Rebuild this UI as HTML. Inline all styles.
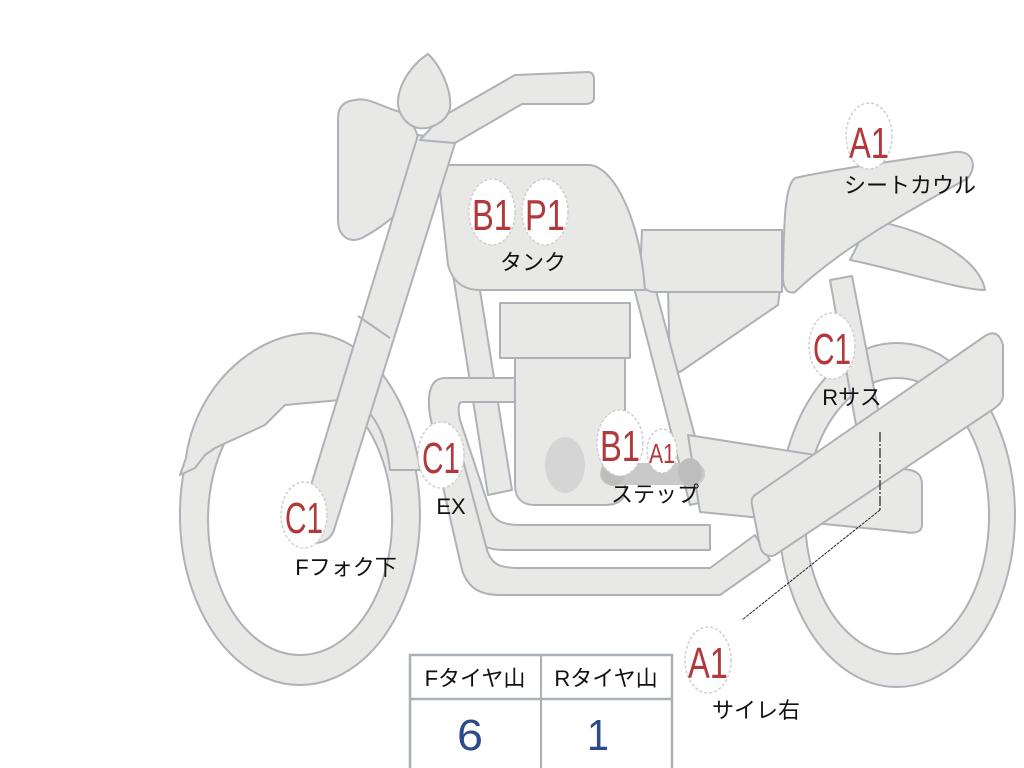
<!DOCTYPE html>
<html><head><meta charset="utf-8"><style>
html,body{margin:0;padding:0;background:#fff;}
svg{display:block}
.p{fill:#e8e8e6;stroke:#aeb2b6;stroke-width:2;stroke-linejoin:round}
.lbl{fill:#b2393b;font-family:"Liberation Sans",sans-serif;font-size:44px}
.jp{fill:#111;font-family:"Liberation Sans","Noto Sans CJK JP",sans-serif;font-size:22px}
.c{fill:#fff;stroke:#cfcfcf;stroke-width:1.5;stroke-dasharray:3 2}
</style></head><body>
<svg width="1024" height="768" viewBox="0 0 1024 768" xmlns="http://www.w3.org/2000/svg">
<path class="p" fill-rule="evenodd" d="M897 343 A118 172 0 1 1 896.9 343 Z M897 378 A92 138 0 1 0 897.1 378 Z"/>
<path class="p" fill-rule="evenodd" d="M300 345 A120 170 0 1 1 299.9 345 Z M300 385 A92 135 0 1 0 300.1 385 Z"/>
<path class="p" d="M180 475 L186 458 C195 390 250 335 310 333 C370 335 410 400 420 470 L390 470 C385 420 360 395 340 400 L285 405 L265 425 L215 448 L205 455 L195 468 Z"/>
<path class="p" d="M870 220 C930 230 980 260 985 290 C960 290 900 270 850 260 Z"/>
<path class="p" d="M668 290 L780 290 L778 305 L680 372 L670 370 Z"/>
<path class="p" d="M830 280 L852 276 L882 430 L858 436 Z"/>
<path class="p" d="M438 180 L462 178 L512 490 L488 495 Z"/>
<path class="p" d="M632 280 L652 276 L712 500 L690 505 Z"/>
<path class="p" d="M445 378 L520 378 L520 402 L462 402 C458 402 458 410 460 420 L490 510 C495 522 505 525 520 525 L710 525 L710 550 L505 550 C488 550 475 545 468 530 L432 425 C425 395 430 378 445 378 Z"/>
<path class="p" d="M430 430 L455 430 L487 550 C492 565 500 568 520 568 L710 568 L755 535 L770 560 L720 595 L500 595 C480 595 468 588 462 570 Z"/>
<path class="p" d="M515 355 L625 355 L625 490 C625 500 618 505 605 505 L535 505 C522 505 515 498 515 485 Z"/>
<rect class="p" x="500" y="303" width="130" height="55"/>
<ellipse cx="565" cy="465" rx="20" ry="28" fill="#d5d5d5"/>
<path class="p" d="M688 435 L910 470 C920 472 922 478 922 485 L922 525 C922 532 915 534 905 532 L700 512 Z"/>
<rect x="600" y="463" width="105" height="22" rx="11" fill="#c9c9c9"/>
<ellipse cx="613" cy="472" rx="12" ry="14" fill="#bdbdbd"/>
<ellipse cx="690" cy="472" rx="12" ry="14" fill="#bdbdbd"/>
<path class="p" d="M755 495 L985 336 C995 330 1000 335 1003 345 L1003 395 C1003 402 998 406 992 410 L775 555 C768 558 762 554 760 546 L752 505 C751 500 752 497 755 495 Z"/>
<path class="p" d="M642 230 L782 230 L782 292 L655 292 C645 292 640 285 640 275 Z"/>
<path class="p" d="M795 178 C830 170 900 160 955 152 C972 150 978 165 968 178 C930 200 850 240 795 292 C785 295 782 285 783 270 C784 220 785 185 795 178 Z"/>
<path class="p" d="M445 165 L590 165 C615 168 640 220 645 290 L480 290 C462 290 452 280 448 265 L440 190 Z"/>
<path class="p" d="M355 100 C368 97 380 106 400 112 C418 122 424 150 420 175 C414 200 395 220 362 238 C348 244 338 235 338 220 L338 118 C338 106 345 101 355 100 Z"/>
<path class="p" d="M418 135 L456 140 L334 530 C330 541 318 546 307 541 C299 536 299 526 301 518 Z"/>
<path fill="none" stroke="#aeb2b6" stroke-width="2" d="M358 316 L390 338"/>
<path class="p" d="M420 140 L440 118 L515 75 L588 72 C593 72 594 76 594 80 L594 98 C594 102 590 104 585 104 L522 104 L455 143 Z"/>
<path class="p" d="M428 54 C440 65 452 90 450 108 C447 122 430 130 418 128 C405 125 397 112 398 100 C400 80 415 62 428 54 Z"/>
<path d="M880 432 L880 510" fill="none" stroke="#222" stroke-width="1.2" stroke-dasharray="10 2 2 2"/>
<path d="M880 510 L742 620" fill="none" stroke="#222" stroke-width="1" stroke-dasharray="3 1"/>
<ellipse class="c" cx="492" cy="212" rx="23" ry="33"/><text class="lbl" x="492" y="230" text-anchor="middle" textLength="40" lengthAdjust="spacingAndGlyphs">B1</text>
<ellipse class="c" cx="545" cy="212" rx="23" ry="33"/><text class="lbl" x="545" y="230" text-anchor="middle" textLength="40" lengthAdjust="spacingAndGlyphs">P1</text>
<text class="jp" x="533" y="270" text-anchor="middle">タンク</text>
<ellipse class="c" cx="869" cy="136" rx="23" ry="33"/><text class="lbl" x="869" y="158" text-anchor="middle" textLength="40" lengthAdjust="spacingAndGlyphs">A1</text>
<text class="jp" x="910" y="193" text-anchor="middle">シートカウル</text>
<ellipse class="c" cx="832" cy="346" rx="23" ry="33"/><text class="lbl" x="832" y="364" text-anchor="middle" textLength="38" lengthAdjust="spacingAndGlyphs">C1</text>
<text class="jp" x="852" y="405" text-anchor="middle">Rサス</text>
<ellipse class="c" cx="441" cy="455" rx="23" ry="33"/><text class="lbl" x="441" y="473" text-anchor="middle" textLength="38" lengthAdjust="spacingAndGlyphs">C1</text>
<text class="jp" x="451" y="514" text-anchor="middle">EX</text>
<ellipse class="c" cx="620" cy="443" rx="23" ry="33"/><text class="lbl" x="620" y="461" text-anchor="middle" textLength="40" lengthAdjust="spacingAndGlyphs">B1</text>
<ellipse class="c" cx="662" cy="451" rx="15" ry="22"/><text class="lbl" x="662" y="463" text-anchor="middle" style="font-size:28px" textLength="26" lengthAdjust="spacingAndGlyphs">A1</text>
<text class="jp" x="655" y="502" text-anchor="middle">ステップ</text>
<ellipse class="c" cx="304" cy="515" rx="23" ry="33"/><text class="lbl" x="304" y="533" text-anchor="middle" textLength="38" lengthAdjust="spacingAndGlyphs">C1</text>
<text class="jp" x="346" y="575" text-anchor="middle">Fフォク下</text>
<ellipse class="c" cx="708" cy="660" rx="23" ry="33"/><text class="lbl" x="708" y="678" text-anchor="middle" textLength="40" lengthAdjust="spacingAndGlyphs">A1</text>
<text class="jp" x="756" y="718" text-anchor="middle">サイレ右</text>
<rect x="410" y="655" width="262" height="120" fill="#fff" stroke="#aab0b8" stroke-width="2.5"/>
<line x1="410" y1="699" x2="672" y2="699" stroke="#aab0b8" stroke-width="2.5"/>
<line x1="541" y1="655" x2="541" y2="768" stroke="#aab0b8" stroke-width="2"/>
<text class="jp" x="475" y="686" text-anchor="middle">Fタイヤ山</text>
<text class="jp" x="606" y="686" text-anchor="middle">Rタイヤ山</text>
<text x="470" y="750" text-anchor="middle" fill="#2d4a8c" font-family="Liberation Sans,sans-serif" font-size="44" textLength="26" lengthAdjust="spacingAndGlyphs">6</text>
<text x="598" y="750" text-anchor="middle" fill="#2d4a8c" font-family="Liberation Sans,sans-serif" font-size="44" textLength="22" lengthAdjust="spacingAndGlyphs">1</text>
</svg>
</body></html>
